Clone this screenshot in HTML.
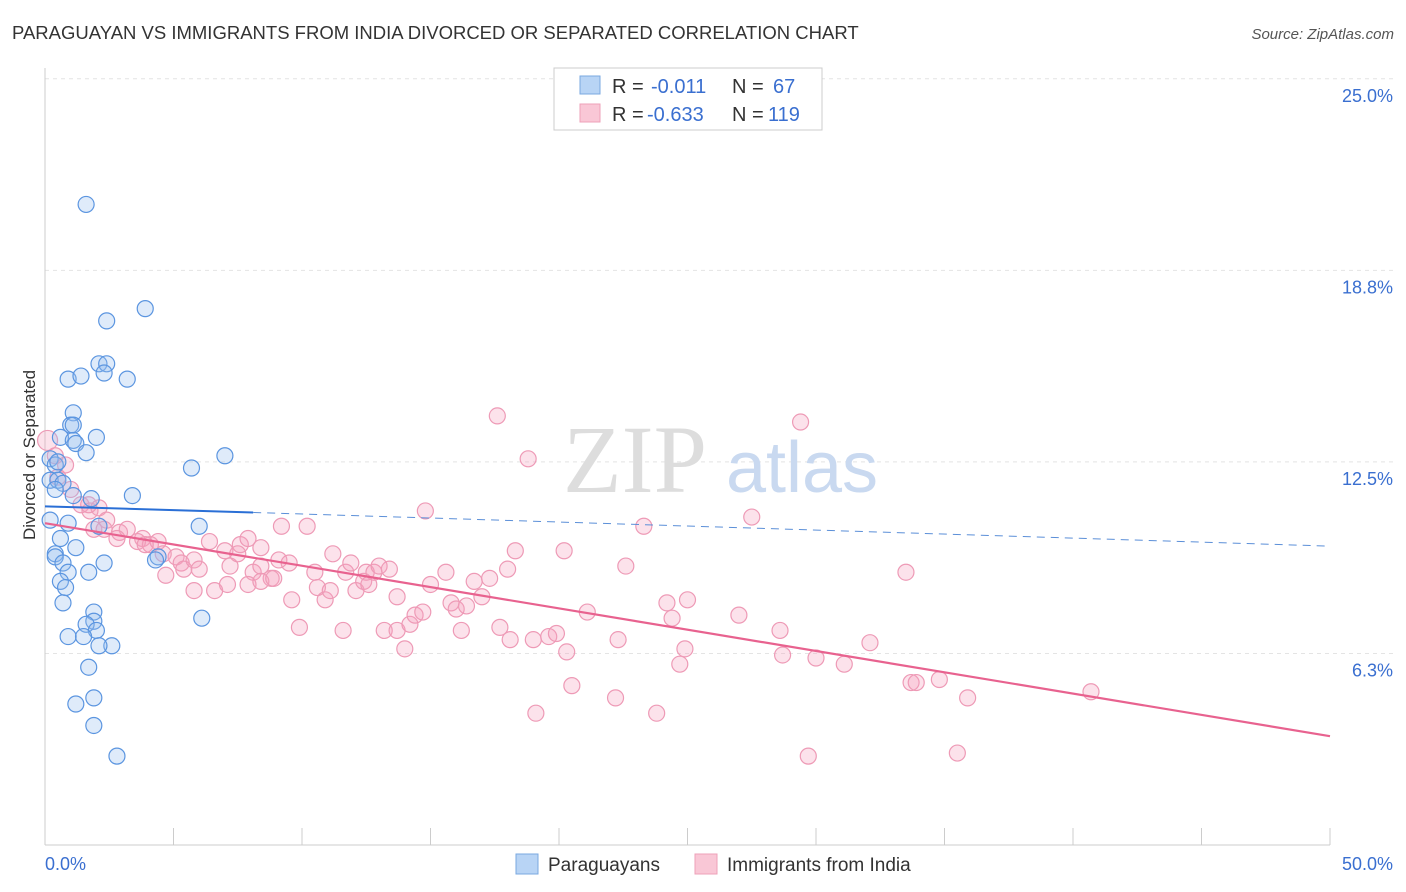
<!DOCTYPE html>
<html><head><meta charset="utf-8"><style>
body{margin:0;background:#fff;font-family:"Liberation Sans",sans-serif}
</style></head><body>
<svg width="1406" height="892" style="display:block">
<text x="12" y="39" font-size="18.5" fill="#333">PARAGUAYAN VS IMMIGRANTS FROM INDIA DIVORCED OR SEPARATED CORRELATION CHART</text>
<text x="1394" y="39" font-size="15" fill="#555" font-style="italic" text-anchor="end">Source: ZipAtlas.com</text>
<g id="grid"></g>
<text x="635" y="492" font-size="96" fill="#ddd" font-family="Liberation Serif" text-anchor="middle">ZIP</text>
<text x="802" y="492" font-size="72" fill="#c9d9f0" text-anchor="middle">atlas</text>
<line x1="45" y1="68" x2="45" y2="845" stroke="#ccc"/>
<line x1="45" y1="845" x2="1330" y2="845" stroke="#ccc"/>
<text x="35" y="455" font-size="17" fill="#333" text-anchor="middle" transform="rotate(-90 35 455)">Divorced or Separated</text>
<g id="pts"></g>
<g>
<rect x="554" y="68" width="268" height="62" fill="#fff" stroke="#ccc"/>
<rect x="580" y="76" width="20" height="18" fill="#b8d4f5" stroke="#7aa8e0"/>
<rect x="580" y="104" width="20" height="18" fill="#f9c7d6" stroke="#eea0b8"/>
<g font-size="20" fill="#333">
<text x="612" y="93">R =</text><text x="651" y="93" fill="#3a6fd0">-0.011</text><text x="732" y="93">N =</text><text x="773" y="93" fill="#3a6fd0">67</text>
<text x="612" y="121">R =</text><text x="647" y="121" fill="#3a6fd0">-0.633</text><text x="732" y="121">N =</text><text x="768" y="121" fill="#3a6fd0">119</text>
</g>
</g>
<g>
<rect x="516" y="854" width="22" height="20" fill="#b8d4f5" stroke="#7aa8e0"/>
<text x="548" y="871" font-size="19" fill="#333">Paraguayans</text>
<rect x="695" y="854" width="22" height="20" fill="#f9c7d6" stroke="#eea0b8"/>
<text x="727" y="871" font-size="19" fill="#333">Immigrants from India</text>
</g>
<text x="45" y="870" font-size="18" fill="#3a6fd0">0.0%</text>
<text x="1393" y="870" font-size="18" fill="#3a6fd0" text-anchor="end">50.0%</text>
</svg>
<script>
const yTicks=[25,18.75,12.5,6.25];
const yTickLabels=["25.0%","18.8%","12.5%","6.3%"];
const blueX=[1.6,2.4,3.9,0.9,1.4,2.1,2.4,2.3,3.2,1.1,1.0,1.1,0.6,2.0,1.1,1.2,1.6,0.2,0.4,0.5,5.7,7.0,0.2,0.5,0.7,0.4,1.1,1.8,3.4,0.2,0.9,2.1,6.0,0.6,1.2,0.4,0.4,2.3,0.7,0.9,1.7,0.6,0.8,0.7,1.9,6.1,1.9,1.6,2.0,0.9,1.5,2.6,2.1,1.7,1.9,1.2,1.9,2.8,4.4,4.3];
const blueY=[20.9,17.1,17.5,15.2,15.3,15.7,15.7,15.4,15.2,14.1,13.7,13.7,13.3,13.3,13.2,13.1,12.8,12.6,12.4,12.5,12.3,12.7,11.9,11.9,11.8,11.6,11.4,11.3,11.4,10.6,10.5,10.4,10.4,10.0,9.7,9.5,9.4,9.2,9.2,8.9,8.9,8.6,8.4,7.9,7.6,7.4,7.3,7.2,7.0,6.8,6.8,6.5,6.5,5.8,4.8,4.6,3.9,2.9,9.4,9.3];
const pinkX=[0.1,0.4,0.8,0.5,1.0,1.4,1.75,2.1,2.4,1.9,2.9,3.2,3.8,3.6,4.1,4.4,4.6,5.1,5.3,5.4,5.8,6.0,6.4,7.0,7.2,7.6,7.9,8.1,8.4,8.8,9.1,9.5,9.2,10.2,9.6,9.9,10.5,10.6,10.9,11.1,11.2,11.7,11.9,12.1,11.6,12.4,12.5,12.8,12.6,13.0,13.4,13.2,13.7,14.0,13.7,14.2,14.4,14.7,15.0,14.8,15.6,15.8,16.0,16.2,16.4,16.7,17.0,17.3,17.6,17.7,18.0,18.1,18.3,18.8,19.0,19.1,19.6,19.9,20.2,20.3,20.5,21.1,22.2,22.3,22.6,23.3,23.8,24.2,24.4,24.7,24.9,25.0,27.0,27.5,28.6,28.7,29.4,29.7,30.0,31.1,32.1,33.5,33.7,33.9,34.8,35.5,35.9,40.7,4.7,5.8,6.6,7.1,7.9,8.4,8.9,7.5,8.4,1.7,2.3,2.8,3.9];
const pinkY=[13.2,12.7,12.4,12.0,11.6,11.1,10.9,11.0,10.6,10.3,10.2,10.3,10.0,9.9,9.8,9.9,9.5,9.4,9.2,9.0,9.3,9.0,9.9,9.6,9.1,9.8,10.0,8.9,9.1,8.7,9.3,9.2,10.4,10.4,8.0,7.1,8.9,8.4,8.0,8.3,9.5,8.9,9.2,8.3,7.0,8.6,8.9,8.9,8.5,9.1,9.0,7.0,8.1,6.4,7.0,7.2,7.5,7.6,8.5,10.9,8.9,7.9,7.7,7.0,7.8,8.6,8.1,8.7,14.0,7.1,9.0,6.7,9.6,12.6,6.7,4.3,6.8,6.9,9.6,6.3,5.2,7.6,4.8,6.7,9.1,10.4,4.3,7.9,7.4,5.9,6.4,8.0,7.5,10.7,7.0,6.2,13.8,2.9,6.1,5.9,6.6,8.9,5.3,5.3,5.4,3.0,4.8,5.0,8.8,8.3,8.3,8.5,8.5,8.6,8.7,9.5,9.7,11.1,10.3,10.0,9.8];
const blueTrend=[[0,11.05],[8.1,10.85],[50,9.75]];
const pinkTrend=[[0,10.5],[50,3.55]];
const X=v=>45+v/50*1285, Y=v=>845-v*30.65;
const NS="http://www.w3.org/2000/svg";
const mk=(t,a,p)=>{const e=document.createElementNS(NS,t);for(const k in a)e.setAttribute(k,a[k]);p.appendChild(e);return e;};
const grid=document.getElementById('grid'), pts=document.getElementById('pts');
yTicks.forEach((t,i)=>{
 const l=mk('line',{x1:45,x2:1395,y1:Y(t),y2:Y(t),stroke:'#e4e4e4','stroke-dasharray':'4,4'},grid);
 
 
 const tx=mk('text',{x:1393,y:Y(t)+23,'font-size':18,fill:'#3a6fd0','text-anchor':'end'},grid);
 tx.textContent=yTickLabels[i];
 
 
});
for(let i=0;i<=10;i++){const v=i*5;
 const l=mk('line',{x1:X(v),x2:X(v),y1:828,y2:845,stroke:'#ccc'},grid);
 
 
}
pinkX.forEach((x,i)=>{const c=mk('circle',{cx:X(x),cy:Y(pinkY[i]),r:i==0?10:8,fill:'rgba(244,160,188,0.3)',stroke:'#ee9ab6','stroke-width':1.2},pts);
 
 });
blueX.forEach((x,i)=>{const c=mk('circle',{cx:X(x),cy:Y(blueY[i]),r:8,fill:'rgba(150,190,240,0.3)',stroke:'#5b95e0','stroke-width':1.2},pts);
 
 });
let b1=mk('line',{x1:X(blueTrend[0][0]),y1:Y(blueTrend[0][1]),x2:X(blueTrend[1][0]),y2:Y(blueTrend[1][1]),stroke:'#2a6fd6','stroke-width':2},pts);


let b2=mk('line',{x1:X(blueTrend[1][0]),y1:Y(blueTrend[1][1]),x2:X(blueTrend[2][0]),y2:Y(blueTrend[2][1]),stroke:'#5b8fd8','stroke-width':1,'stroke-dasharray':'8,6'},pts);


let p1=mk('line',{x1:X(pinkTrend[0][0]),y1:Y(pinkTrend[0][1]),x2:X(pinkTrend[1][0]),y2:Y(pinkTrend[1][1]),stroke:'#e8628f','stroke-width':2.2},pts);


</script>
</body></html>
